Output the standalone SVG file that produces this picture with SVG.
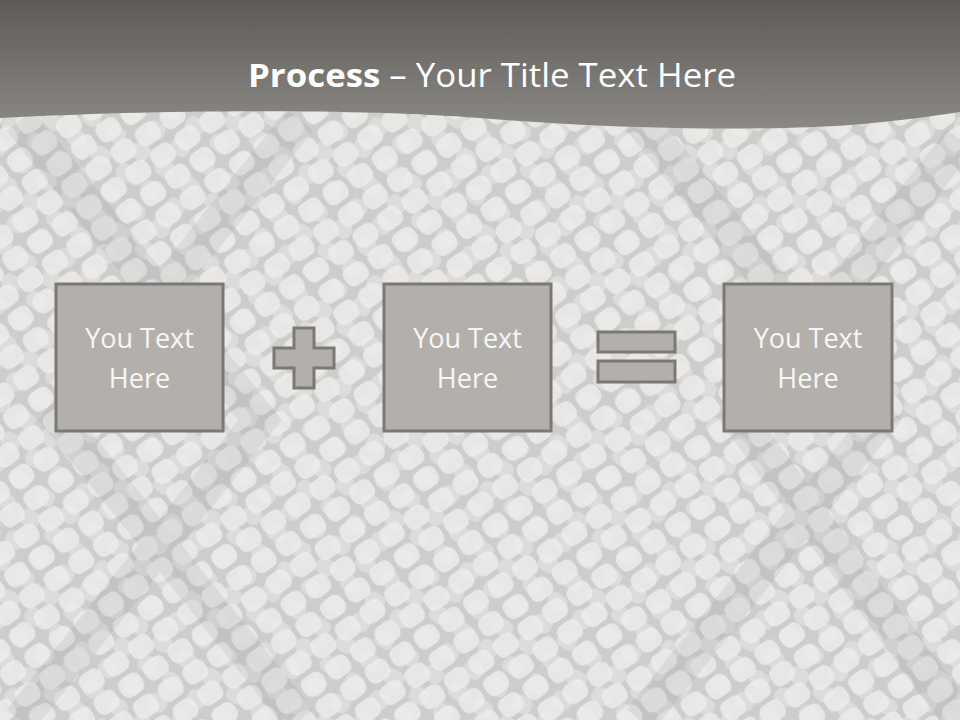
<svg xmlns="http://www.w3.org/2000/svg" width="960" height="720" viewBox="0 0 960 720">
  <defs>
    <linearGradient id="hdr" x1="0" y1="0" x2="0" y2="1">
      <stop offset="0" stop-color="#5e5b57"/>
      <stop offset="1" stop-color="#8b8985"/>
    </linearGradient>
    <pattern id="scales" width="30" height="26" patternUnits="userSpaceOnUse" patternTransform="rotate(-35)">
      <rect width="30" height="26" fill="#cdcdcc"/>
      <rect x="2" y="2" width="25" height="21" rx="8" fill="#e8e7e5"/>
    </pattern>
    <pattern id="scales2" width="30" height="26" patternUnits="userSpaceOnUse" patternTransform="rotate(35) translate(9,6)">
      <rect x="3" y="3" width="20" height="17" rx="7" fill="#efeeec" opacity="0.45"/>
    </pattern>
    <style>
      .box { fill: #b3b0ac; stroke: #7b7976; stroke-width: 3; }
      .sym { fill: #b3b0ac; stroke: #7b7976; stroke-width: 3; }
      .lbl { font-family: "Open Sans", "Noto Sans", sans-serif; font-size: 27px; fill: #f7f6f4; text-anchor: middle; }
      .ttl { font-family: "Open Sans", "Noto Sans", sans-serif; font-size: 33px; fill: #ffffff; }
    </style>
  </defs>

  <!-- background texture -->
  <rect width="960" height="720" fill="#dcdbd9"/>
  <rect width="960" height="720" fill="url(#scales)"/>
  <rect width="960" height="720" fill="url(#scales2)"/>
  <g opacity="0.14" fill="none" stroke="#8e8e8e" stroke-width="34">
    <path d="M20,120 L260,420 L20,720"/>
    <path d="M300,120 L60,420 L300,720"/>
    <path d="M640,120 L880,420 L640,720"/>
    <path d="M960,140 L740,420 L960,720"/>
  </g>

  <!-- header band -->
  <path d="M0,0 H960 V112 C940,115 900,121 850,125 C750,132 600,128 480,118 C350,108 150,110 0,118 Z" fill="url(#hdr)"/>
  <text class="ttl" x="248" y="87" textLength="488" lengthAdjust="spacingAndGlyphs"><tspan font-weight="bold">Process</tspan> – Your Title Text Here</text>

  <g id="node1">
    <rect class="box" x="56" y="284" width="167" height="147"/>
    <text class="lbl" x="139.5" y="348">You Text</text>
    <text class="lbl" x="139.5" y="388">Here</text>
  </g>

  <g id="plus">
    <path class="sym" d="M294,328 H314 V348 H334 V368 H314 V388 H294 V368 H274 V348 H294 Z"/>
  </g>

  <g id="node2">
    <rect class="box" x="384" y="284" width="167" height="147"/>
    <text class="lbl" x="467.5" y="348">You Text</text>
    <text class="lbl" x="467.5" y="388">Here</text>
  </g>

  <g id="equals">
    <rect class="sym" x="598" y="332" width="77" height="20"/>
    <rect class="sym" x="598" y="361" width="77" height="21"/>
  </g>

  <g id="node3">
    <rect class="box" x="724" y="284" width="168" height="147"/>
    <text class="lbl" x="808" y="348">You Text</text>
    <text class="lbl" x="808" y="388">Here</text>
  </g>

  <g id="connectors"></g>
</svg>
